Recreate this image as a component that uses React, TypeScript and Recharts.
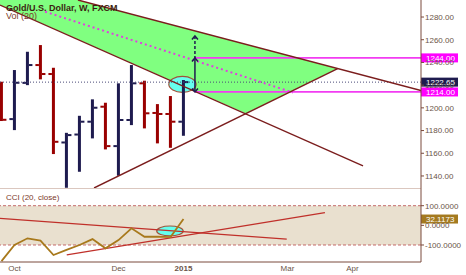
import React from 'react';
import { ComposedChart, Bar, Line, Area, XAxis, YAxis, ReferenceLine, ReferenceArea } from 'recharts';

// weekly bars, index 0 = late Sep 2014, 14 = first week of 2015
const weeks = [0, 1, 2, 3, 4, 5, 6, 7, 8, 9, 10, 11, 12, 13, 14];
const opens = [1215, 1190.1, 1222, 1237.7, 1229.8, 1169.5, 1176.5, 1187.8, 1201, 1166.3, 1189.3, 1221.6, 1195.5, 1194.6, 1187.8];
const highs = [1223, 1233.3, 1249.4, 1255.3, 1235.3, 1178, 1193, 1207.5, 1204.5, 1221.6, 1237.7, 1223.9, 1203.3, 1210.4, 1224.5];
const lows = [1188.4, 1180.4, 1220, 1225.1, 1159.3, 1129.6, 1143.7, 1173.1, 1163.4, 1140.2, 1184.8, 1181.9, 1168.7, 1164.8, 1175.4];
const closes = [1189.5, 1222.1, 1237.7, 1229.8, 1170.1, 1176, 1187.8, 1200.1, 1166.3, 1189.3, 1221.6, 1195.2, 1194.6, 1187.8, 1222.65];
const cciValues = [-182, -100, -66, -78, -151, -125, -100, -70, -117, -75, -15, -58, -57, -60, 32.1173];

const priceTicks = [1140, 1160, 1180, 1200, 1220, 1240, 1260, 1280];
const cciTicks = [-100, 0, 100];
const monthTicks = [1, 9, 14, 22, 27];
const monthLabels = ['Oct', 'Dec', '2015', 'Mar', 'Apr'];

const lastPrice = 1222.65;
const lastCci = 32.1173;
const targetHigh = 1244;
const targetLow = 1214;
const arrowTop = 1263.3;

// drawings, in (bar index, value)
const upperLine = [{ x: 5.88, y: 1295 }, { x: 32.27, y: 1215.2 }];
const lowerLine = [{ x: -0.115, y: 1290.57 }, { x: 27.81, y: 1148.98 }];
const risingLine = [{ x: 7.12, y: 1129.4 }, { x: 25.86, y: 1234.57 }];
const midLine = [{ x: 3.35, y: 1284.7 }, { x: 22.42, y: 1213.5 }];
const triangleFill = [
  { i: -0.115, lo: 1290.57, hi: 1295 },
  { i: 5.88, lo: 1260.1, hi: 1295 },
  { i: 18.81, lo: 1195.03, hi: 1255.92 },
  { i: 25.86, lo: 1234.57, hi: 1234.57 },
];
const cciFalling = [{ x: -0.115, y: 35.2 }, { x: 21.94, y: -69.6 }];
const cciRising = [{ x: 5.02, y: -150.6 }, { x: 24.88, y: 64.6 }];

const X_DOMAIN = [-0.115, 32.27];
const FONT = '"Liberation Sans", Arial, sans-serif';
const AXIS = '#7a4a3c';
const AXIS_TEXT = '#6b5448';
const TREND = '#7b1d1d';
const MAGENTA = '#f23cf2';
const NAVY = '#1e1b4f';

const ohlcRows = weeks.map((i, k) => ({ i, open: opens[k], high: highs[k], low: lows[k], close: closes[k] }));
const cciRows = weeks.map((i, k) => ({ i, cci: cciValues[k] }));

function OhlcShape(props: any) {
  const { x, y, width, height, payload } = props;
  if (!payload || height == null) return null;
  const k = payload.high === payload.low ? 0 : height / (payload.high - payload.low);
  const cx = x + width / 2;
  const yo = y + (payload.high - payload.open) * k;
  const yc = y + (payload.high - payload.close) * k;
  const color = payload.close >= payload.open ? NAVY : '#990000';
  return (
    <g fill={color}>
      <rect x={cx - 1.5} y={y} width={3} height={Math.max(height, 1)} />
      <rect x={cx - 5} y={yo - 1} width={3.5} height={2} />
      <rect x={cx + 1.5} y={yc - 1} width={3.5} height={2} />
    </g>
  );
}

function Ellipse(props: any) {
  const { x, y, width, height } = props;
  return (
    <ellipse cx={x + width / 2} cy={y + height / 2} rx={width / 2} ry={height / 2}
      fill="#66ffee" stroke="#a0523a" strokeWidth={1.2} />
  );
}

function arrow(dashed: boolean, bothEnds: boolean) {
  return (p: any) => {
    const { x1, y1, x2, y2 } = p;
    const top = Math.min(y1, y2);
    const bottom = Math.max(y1, y2);
    return (
      <g stroke={NAVY} strokeWidth={1.5} fill="none">
        <line x1={x1} y1={top} x2={x2} y2={bottom} strokeDasharray={dashed ? '3 2' : undefined} />
        <polyline points={`${x1 - 3},${top + 3.5} ${x1},${top} ${x1 + 3},${top + 3.5}`} />
        {bothEnds && <polyline points={`${x1 - 3},${bottom - 3.5} ${x1},${bottom} ${x1 + 3},${bottom - 3.5}`} />}
      </g>
    );
  };
}

function tag(text: string, bg: string) {
  return (props: any) => {
    const vb = props.viewBox || {};
    const x = (vb.x ?? 0) + (vb.width ?? 0);
    const y = vb.y ?? 0;
    return (
      <g>
        <rect x={x} y={y - 4.5} width={37} height={9} fill={bg} />
        <text x={x + 5} y={y} dy="0.35em" fontSize={8} fontFamily={FONT} fill="#fff">{text}</text>
      </g>
    );
  };
}

function MonthTick(props: any) {
  const { x, y, payload } = props;
  const label = monthLabels[monthTicks.indexOf(payload.value)];
  return (
    <text x={x} y={y + 7} textAnchor="middle" fontSize={8} fontFamily={FONT}
      fontWeight={label === '2015' ? 'bold' : 'normal'} fill={AXIS_TEXT}>{label}</text>
  );
}

const yTick = { fontSize: 8, fill: AXIS_TEXT, fontFamily: FONT };

export default function App() {
  return (
    <div style={{ position: 'absolute', left: 0, top: 0, width: 466, height: 275, background: '#fff', fontFamily: FONT }}>
      <ComposedChart width={466} height={188} data={ohlcRows} margin={{ top: 0, right: 0, bottom: 0, left: 0 }}>
        <XAxis type="number" dataKey="i" domain={X_DOMAIN} allowDataOverflow hide />
        <YAxis orientation="right" width={45} domain={[1129.4, 1295]} allowDataOverflow ticks={priceTicks} interval={0}
          tickFormatter={(v: number) => v.toFixed(2)} tick={yTick} tickSize={3} tickMargin={1}
          tickLine={{ stroke: AXIS }} axisLine={{ stroke: AXIS }} />
        <Area data={triangleFill} dataKey={(d: any) => [d.lo, d.hi]} type="linear" fill="#80ff80" fillOpacity={1}
          stroke="none" dot={false} activeDot={false} isAnimationActive={false} />
        <ReferenceLine y={lastPrice} stroke="#4a4a78" strokeDasharray="1 2" />
        <ReferenceLine segment={midLine} ifOverflow="hidden" stroke="#e040e0" strokeWidth={2} strokeDasharray="2 3" />
        <ReferenceLine segment={[{ x: 14.88, y: targetHigh }, { x: 32.27, y: targetHigh }]} ifOverflow="hidden" stroke={MAGENTA} strokeWidth={1.8} />
        <ReferenceLine segment={[{ x: 14.88, y: targetLow }, { x: 32.27, y: targetLow }]} ifOverflow="hidden" stroke={MAGENTA} strokeWidth={1.8} />
        <ReferenceArea x1={12.87} x2={14.97} y1={1213.7} y2={1227.7} shape={Ellipse} />
        <ReferenceLine segment={upperLine} ifOverflow="hidden" stroke={TREND} strokeWidth={1.4} />
        <ReferenceLine segment={lowerLine} ifOverflow="hidden" stroke={TREND} strokeWidth={1.4} />
        <ReferenceLine segment={risingLine} ifOverflow="hidden" stroke={TREND} strokeWidth={1.4} />
        <Bar dataKey={(d: any) => [d.low, d.high]} barSize={3} shape={OhlcShape} isAnimationActive={false} />
        <ReferenceLine segment={[{ x: 14.88, y: targetHigh }, { x: 14.88, y: arrowTop }]} ifOverflow="hidden" shape={arrow(true, false)} />
        <ReferenceLine segment={[{ x: 14.88, y: targetLow }, { x: 14.88, y: targetHigh }]} ifOverflow="hidden" shape={arrow(false, true)} />
        <ReferenceLine y={targetHigh} stroke="none" label={tag('1244.00', '#ff00ff')} />
        <ReferenceLine y={lastPrice} stroke="none" label={tag('1222.65', NAVY)} />
        <ReferenceLine y={targetLow} stroke="none" label={tag('1214.00', '#ff00ff')} />
      </ComposedChart>
      <ComposedChart width={466} height={87} data={cciRows} margin={{ top: 0, right: 0, bottom: 0, left: 0 }}>
        <XAxis type="number" dataKey="i" domain={X_DOMAIN} allowDataOverflow ticks={monthTicks} interval={0}
          tick={MonthTick} tickLine={false} tickSize={0} axisLine={{ stroke: AXIS }} height={13} />
        <YAxis orientation="right" width={45} domain={[-186.5, 190]} allowDataOverflow ticks={cciTicks} interval={0}
          tickFormatter={(v: number) => v.toFixed(4)} tick={yTick} tickSize={3} tickMargin={1}
          tickLine={{ stroke: AXIS }} axisLine={{ stroke: AXIS }} />
        <ReferenceArea y1={-100} y2={100} fill="#e9e0cf" fillOpacity={1} stroke="none" />
        <ReferenceLine y={190} stroke="#b89080" />
        <ReferenceLine y={100} stroke="#c46a6a" strokeDasharray="3 2" />
        <ReferenceLine y={-100} stroke="#c46a6a" strokeDasharray="3 2" />
        <ReferenceLine segment={cciFalling} ifOverflow="hidden" stroke="#c0302a" strokeWidth={1.3} />
        <ReferenceLine segment={cciRising} ifOverflow="hidden" stroke="#c0302a" strokeWidth={1.3} />
        <Line dataKey="cci" type="linear" stroke="#a8791c" strokeWidth={1.8} dot={false} isAnimationActive={false} />
        <ReferenceArea x1={11.94} x2={13.98} y1={-54} y2={-3.4} shape={Ellipse} />
        <ReferenceLine y={lastCci} stroke="none" label={tag('32.1173', '#a47a20')} />
      </ComposedChart>
      <div style={{ position: 'absolute', left: 6, top: 3.8, fontSize: 9, lineHeight: '9px', fontWeight: 'bold', color: '#3b1e10', whiteSpace: 'nowrap' }}>
        Gold/U.S. Dollar, W, FXCM
      </div>
      <div style={{ position: 'absolute', left: 6, top: 12.2, fontSize: 9, lineHeight: '9px', color: '#7b3a2a', whiteSpace: 'nowrap' }}>
        Vol (20)
      </div>
      <div style={{ position: 'absolute', left: 6, top: 194.4, fontSize: 8, lineHeight: '8px', color: '#7b3a2a', whiteSpace: 'nowrap' }}>
        CCI (20, close)
      </div>
    </div>
  );
}
